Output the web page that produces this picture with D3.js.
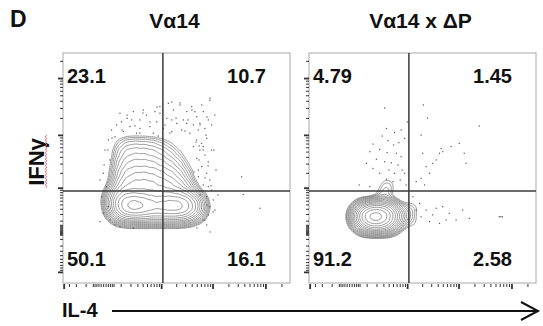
<!DOCTYPE html>
<html><head><meta charset="utf-8">
<script src="https://cdn.jsdelivr.net/npm/d3@7"></script>
<style>body{margin:0;background:#fff}svg{display:block}text{font-family:"Liberation Sans",Arial,sans-serif;font-weight:bold;fill:#111}</style>
</head><body><svg id="c" width="543" height="326"></svg>
<script>
// ---- data (IL-4 / IFNγ channel units 0-1000, weights) ----
const panelTitles = ["Vα14", "Vα14 x ΔP"];
const quadrantA = ["23.1", "10.7", "50.1", "16.1"]; // UL, UR, LL, LR
const quadrantB = ["4.79", "1.45", "91.2", "2.58"];
const gateIL4 = 440, gateIFNg = 400;
const xMajorTicks = [-400, 1000, 10000, 100000];
const xMinorTicks = [-300,-200,-100,-50,-40,-30,-20,-10,0,10,20,30,40,50,100,200,300,400,500,600,700,800,900,
  2000,3000,4000,5000,6000,7000,8000,9000,20000,30000,40000,50000,60000,70000,80000,90000,200000];
const yMajorTicks = [-1000, 1000, 10000, 100000];
const yMinorTicks = [-900,-800,-700,-600,-500,-400,-300,-200,-100,-50,-40,-30,-20,-10,0,10,20,30,40,50,100,200,300,400,500,600,700,800,900,
  2000,3000,4000,5000,6000,7000,8000,9000,20000,30000,40000,50000,60000,70000,80000,90000,200000];

// Vα14: [IL-4, IFNγ, weight]
const kernelsA = [
 // lower band
 [225,339,1.2],[255,339,4],[290,339,9],[330,339,10],[370,339,6],[410,339,5],[450,339,5.5],[490,339,7],[530,339,6],[570,339,3],[600,339,0.6],
 [225,378,1],[255,378,3],[290,378,3.2],[330,378,3.2],[370,378,3],[410,378,3],[450,378,3],[490,378,2.6],[530,378,2],[565,378,1],
 [240,308,1],[270,308,3],[310,308,3.4],[350,308,3.4],[390,308,3.4],[430,308,3.4],[470,308,3.4],[510,308,3.2],[550,308,2.4],[585,308,0.8],
 // upper lobe
 [260,426,1.8],[300,426,2.3],[340,426,2.5],[380,426,2.4],[420,426,2.1],[460,426,1.8],[500,426,1.3],[540,426,0.7],
 [260,470,1.1],[300,470,1.5],[340,470,1.6],[380,470,1.55],[420,470,1.35],[460,470,1.05],[500,470,0.7],[540,470,0.3],
 [260,513,0.75],[300,513,0.95],[340,513,1.0],[380,513,0.95],[420,513,0.8],[460,513,0.6],[500,513,0.38],[540,513,0.12],
 [260,557,0.5],[300,557,0.6],[340,557,0.62],[380,557,0.58],[420,557,0.48],[460,557,0.34],[500,557,0.16],[540,557,0.04],
 [260,600,0.32],[300,600,0.38],[340,600,0.38],[380,600,0.35],[420,600,0.27],[460,600,0.15],[500,600,0.05]
];
// Vα14 x ΔP
const kernelsB = [
 [210,287,1],[240,287,4],[280,287,9],[320,287,7],[360,287,3],[395,287,1],
 [225,317,0.9],[260,317,3],[300,317,4],[340,317,3],[375,317,1],
 [225,255,0.7],[260,255,2.5],[300,255,3.5],[340,255,2.5],[375,255,0.7],
 [315,340,0.28],[325,365,0.21],[335,390,0.18],[343,415,0.16],[348,438,0.13],
 [430,300,0.3],[455,330,0.2],[460,260,0.18]
];
const dotsA = [
 [251,738],[283,716],[310,745],[339,709],[368,730],[405,745],[427,767],[464,781],[486,752],[515,774],[545,745],[567,767],
 [589,723],[618,745],[647,795],[640,709],[603,694],[574,687],[530,709],[501,694],[457,716],[413,701],[383,680],[339,672],
 [295,680],[266,658],[229,636],[236,687],[214,665],[324,651],[398,651],[442,672],[479,658],[523,665],[559,651],[596,665],
 [625,672],[655,687],[427,738],[479,709],[545,694],[354,752],[302,709],[258,701],[581,745],[611,774],[669,730],
 [589,622],[611,607],[633,629],[603,578],[625,556],[589,542],[640,527],[611,506],[633,477],[596,462],[647,448],[618,426],
 [655,404],[633,375],[662,361],[647,332],[669,317],[640,296],[625,274],[600,596],[574,593],[618,593],[655,578],[596,491],[640,419],
 [200,622],[185,578],[207,535],[178,477],[192,419],[170,375],[200,332],[178,303],[207,274],[229,252],[163,267],
 [787,462],[868,325],[794,385],[251,245],[310,238],[633,252],
 [282,730],[352,739],[414,765],[480,787],[515,783],[648,804],[634,722],
 [586,613],[617,578],[599,535],[639,509],[577,483],[626,457],[652,422],[604,383],[634,339],[661,309],[617,274],[590,239],
 [648,222],[551,709],[498,717],[449,687],[383,700],[317,683],[260,665],[216,630],[198,578],[181,513],[163,448],[537,661],
 [471,652],[419,639],[339,652],[568,752],[604,687],[630,643],[665,578],[674,491],[683,383]
];
const dotsB = [
 [341,672],[377,654],[323,639],[406,665],[282,604],[348,619],[373,600],[396,610],[421,629],[268,571],[311,581],[344,567],
 [385,564],[406,549],[297,538],[333,527],[363,523],[392,513],[253,520],[282,498],[311,477],[352,491],[377,477],[411,491],
 [341,451],[370,441],[402,448],[221,426],[268,419],[428,426],[421,477],
 [333,761],[504,774],[522,717],[434,700],[750,683],
 [494,643],[582,585],[626,593],[662,607],[684,564],[692,520],[560,535],[516,506],[531,477],[494,455],[509,426],[472,441],
 [575,564],[545,520],[501,564],[589,571],
 [458,375],[487,346],[516,317],[545,296],[560,325],[589,332],[618,303],[648,274],[677,317],[706,281],[604,274],[494,288],
 [531,267],[575,259],[472,317],[838,288],[845,288],[852,288]
];

// ---- layout ----
const W = 227, H = 230;
const panels = [
  {x0: 63, y0: 53, title: panelTitles[0], q: quadrantA, kernels: kernelsA, dots: dotsA, levels: 15, ratio: 0.74, bw: 6},
  {x0: 309, y0: 53, title: panelTitles[1], q: quadrantB, kernels: kernelsB, dots: dotsB, levels: 16, ratio: 0.75, bw: 5}
];
const svg = d3.select("#c");
const xCh = d3.scaleLinear().domain([0, 1000]).range([0, W]);
const yCh = d3.scaleLinear().domain([0, 1000]).range([H, 0]);
const xFl = d3.scaleSymlog().constant(88).domain([-414, 2.9e5]).range([0, W]);
const yFl = d3.scaleSymlog().constant(226).domain([-1690, 2.74e5]).range([H, 0]);

svg.append("text").attr("x", 10).attr("y", 27).attr("font-size", 23).text("D");

panels.forEach(p => {
  const g = svg.append("g").attr("transform", `translate(${p.x0},${p.y0})`);
  svg.append("text").attr("x", p.x0 + W / 2 - 2).attr("y", 28).attr("text-anchor", "middle")
    .attr("font-size", 21).text(p.title);

  // contours
  const dens = d3.contourDensity()
    .x(d => xCh(d[0])).y(d => yCh(d[1])).weight(d => d[2])
    .size([W, H]).cellSize(2).bandwidth(p.bw);
  const probe = dens.thresholds(400)(p.kernels);
  const M = d3.max(probe, c => c.value);
  const th = d3.range(p.levels).map(k => M * 0.9 * Math.pow(p.ratio, k)).reverse();
  const cs = dens.thresholds(th)(p.kernels);
  g.append("g").selectAll("path").data(cs).join("path")
    .attr("d", d3.geoPath()).attr("fill", "none").attr("stroke", "#808080").attr("stroke-width", 0.8);

  // dots
  g.append("g").selectAll("rect").data(p.dots).join("rect")
    .attr("x", d => xCh(d[0]) - 0.6).attr("y", d => yCh(d[1]) - 0.6)
    .attr("width", 1.2).attr("height", 1.2).attr("fill", "#555");

  // frame
  g.append("rect").attr("width", W).attr("height", H).attr("fill", "none").attr("stroke", "#a8a8a8").attr("stroke-width", 1);
  // gates
  g.append("line").attr("x1", xCh(gateIL4)).attr("x2", xCh(gateIL4)).attr("y1", 0).attr("y2", H)
    .attr("stroke", "#3a3a3a").attr("stroke-width", 1.5);
  g.append("line").attr("x1", 0).attr("x2", W).attr("y1", yCh(gateIFNg)).attr("y2", yCh(gateIFNg))
    .attr("stroke", "#3a3a3a").attr("stroke-width", 1.5);

  // axes
  const axes = [
    [d3.axisLeft(yFl).tickValues(yMinorTicks).tickSize(3), 0, 0, 1],
    [d3.axisLeft(yFl).tickValues(yMajorTicks).tickSize(5), 0, 0, 1.8],
    [d3.axisBottom(xFl).tickValues(xMinorTicks).tickSize(3), 0, H + 1, 1],
    [d3.axisBottom(xFl).tickValues(xMajorTicks).tickSize(5), 0, H + 1, 1.8]
  ];
  axes.forEach(([ax, tx, ty, sw]) => {
    const a = g.append("g").attr("transform", `translate(${tx},${ty})`).call(ax.tickFormat(""));
    a.select(".domain").remove();
    a.selectAll("line").attr("stroke", "#333").attr("stroke-width", sw);
  });

  // quadrant numbers
  g.append("text").attr("x", 4).attr("y", 30).attr("font-size", 20).text(p.q[0]);
  g.append("text").attr("x", W - 24).attr("y", 30).attr("font-size", 20).attr("text-anchor", "end").text(p.q[1]);
  g.append("text").attr("x", 4).attr("y", 213).attr("font-size", 20).text(p.q[2]);
  g.append("text").attr("x", W - 24).attr("y", 213).attr("font-size", 20).attr("text-anchor", "end").text(p.q[3]);
});

// axis titles
svg.append("text").attr("transform", "translate(44,162) rotate(-90)").attr("text-anchor", "middle")
  .attr("font-size", 22).text("IFNγ");
const sq = d3.path(); sq.moveTo(45.5, 188);
for (let y = 188, i = 0; y > 136; y -= 1.6, i++) sq.lineTo(i % 2 ? 45 : 47, y - 1.6);
svg.append("path").attr("d", sq.toString()).attr("fill", "none").attr("stroke", "#f06a6a").attr("stroke-width", 0.9);

svg.append("text").attr("x", 62).attr("y", 317).attr("font-size", 20).text("IL-4");
svg.append("line").attr("x1", 112).attr("x2", 537).attr("y1", 311).attr("y2", 311).attr("stroke", "#111").attr("stroke-width", 2);
svg.append("path").attr("d", "M521,302 L538,311 L521,320").attr("fill", "none").attr("stroke", "#111").attr("stroke-width", 2);
</script></body></html>
